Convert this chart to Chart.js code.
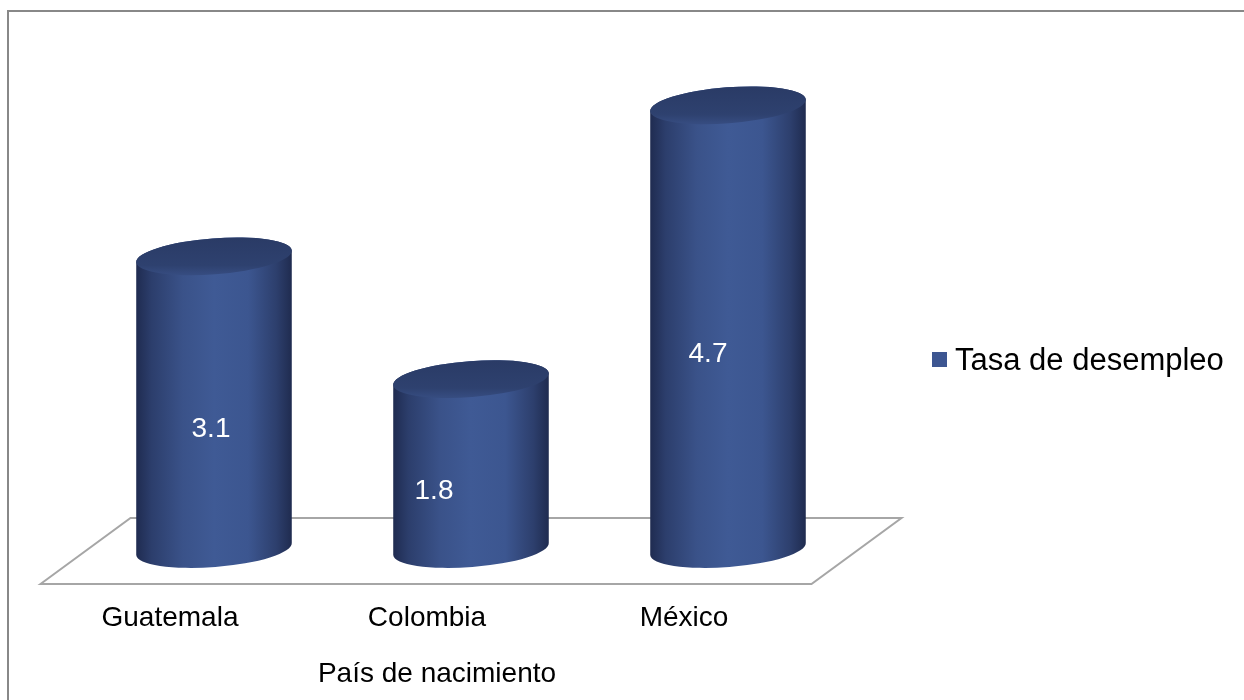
<!DOCTYPE html>
<html>
<head>
<meta charset="utf-8">
<script src="https://cdn.jsdelivr.net/npm/chart.js@4.4.1/dist/chart.umd.min.js"></script>
<style>
  html, body { margin: 0; padding: 0; background: #ffffff; }
  #wrap { position: relative; width: 1244px; height: 700px; }
  canvas { display: block; }
</style>
</head>
<body>
<div id="wrap"><canvas id="chart" width="1244" height="700"></canvas></div>
<script>
// Unemployment rate by country of birth
const categories = ['Guatemala', 'Colombia', 'México'];
const seriesName = 'Tasa de desempleo';
const unemploymentRate = [3.1, 1.8, 4.7];
const axisTitle = 'País de nacimiento';

const FONT = '"Liberation Sans", Arial, "DejaVu Sans", sans-serif';
const LEGEND_SWATCH = '#3d5691';

// Cylinder geometry (pixels)
const CAP_RY = 18;
const CAP_TILT = -4.4 * Math.PI / 180;
// Floor perspective offsets (pixels)
const FLOOR_DX = 45;
const FLOOR_BACK = 31;
const FLOOR_FRONT = 35;
// Horizontal nudge of each value label inside its cylinder (pixels)
const VALUE_LABEL_DX = [-3, -37, -20];
const VALUE_LABEL_DY = 27;

function bodyGradient(ctx, x, rx) {
  const g = ctx.createLinearGradient(x - rx, 0, x + rx, 0);
  g.addColorStop(0.00, '#1f2b50');
  g.addColorStop(0.10, '#2c3e6c');
  g.addColorStop(0.30, '#3a5289');
  g.addColorStop(0.50, '#3f5a95');
  g.addColorStop(0.72, '#3c5690');
  g.addColorStop(0.90, '#2d3f6d');
  g.addColorStop(1.00, '#1f2b4f');
  return g;
}

const cylinderPlugin = {
  id: 'cylinders',
  beforeDraw(chart) {
    const ctx = chart.ctx;
    ctx.save();
    ctx.fillStyle = '#ffffff';
    ctx.fillRect(0, 0, chart.width, chart.height);
    // outer frame
    ctx.strokeStyle = '#888888';
    ctx.lineWidth = 2;
    ctx.strokeRect(8, 11, chart.width + 20, chart.height + 20);
    ctx.restore();
  },
  beforeDatasetsDraw(chart) {
    const ctx = chart.ctx;
    const area = chart.chartArea;
    const base = chart.scales.y.getPixelForValue(0);
    ctx.save();
    ctx.beginPath();
    ctx.moveTo(area.left - FLOOR_DX, base + FLOOR_FRONT);
    ctx.lineTo(area.left + FLOOR_DX, base - FLOOR_BACK);
    ctx.lineTo(area.right + FLOOR_DX, base - FLOOR_BACK);
    ctx.lineTo(area.right - FLOOR_DX, base + FLOOR_FRONT);
    ctx.closePath();
    ctx.fillStyle = '#ffffff';
    ctx.fill();
    ctx.strokeStyle = '#a6a6a6';
    ctx.lineWidth = 2;
    ctx.stroke();
    ctx.restore();
  },
  afterDatasetsDraw(chart) {
    const ctx = chart.ctx;
    const meta = chart.getDatasetMeta(0);
    const values = chart.data.datasets[0].data;
    meta.data.forEach((bar, i) => {
      const { x, y, base, width } = bar.getProps(['x', 'y', 'base', 'width'], true);
      const rx = width / 2;
      ctx.save();
      // side of the cylinder
      ctx.beginPath();
      ctx.ellipse(x, y, rx, CAP_RY, CAP_TILT, Math.PI, 2 * Math.PI, false);
      ctx.ellipse(x, base, rx, CAP_RY, CAP_TILT, 0, Math.PI, false);
      ctx.closePath();
      ctx.fillStyle = bodyGradient(ctx, x, rx);
      ctx.fill();
      // top cap
      ctx.beginPath();
      ctx.ellipse(x, y, rx, CAP_RY, CAP_TILT, 0, 2 * Math.PI);
      const cg = ctx.createLinearGradient(0, y - CAP_RY, 0, y + CAP_RY);
      cg.addColorStop(0, '#2a3b66');
      cg.addColorStop(0.75, '#2e416f');
      cg.addColorStop(1, '#364c80');
      ctx.fillStyle = cg;
      ctx.fill();
      // value label
      ctx.fillStyle = '#ffffff';
      ctx.font = '28px ' + FONT;
      ctx.textAlign = 'center';
      ctx.textBaseline = 'middle';
      ctx.fillText(String(values[i]), x + VALUE_LABEL_DX[i], (y + base) / 2 + VALUE_LABEL_DY);
      ctx.restore();
    });
  },
  afterDraw(chart) {
    const ctx = chart.ctx;
    const area = chart.chartArea;
    ctx.save();
    // axis title
    ctx.fillStyle = '#000000';
    ctx.font = '28px ' + FONT;
    ctx.textAlign = 'center';
    ctx.textBaseline = 'alphabetic';
    ctx.fillText(axisTitle, (area.left + area.right) / 2 - 34, 682);
    // legend
    ctx.fillStyle = LEGEND_SWATCH;
    ctx.fillRect(932, 352, 15, 15);
    ctx.fillStyle = '#000000';
    ctx.font = '31px ' + FONT;
    ctx.textAlign = 'left';
    ctx.fillText(chart.data.datasets[0].label, 955, 370);
    ctx.restore();
  }
};

new Chart(document.getElementById('chart'), {
  type: 'bar',
  data: {
    labels: categories,
    datasets: [{
      label: seriesName,
      data: unemploymentRate,
      backgroundColor: 'rgba(0,0,0,0)',
      borderWidth: 0,
      categoryPercentage: 1.0,
      barPercentage: 0.607
    }]
  },
  options: {
    responsive: false,
    animation: false,
    devicePixelRatio: 1,
    layout: { padding: { left: 85.5, right: 387.5, top: 77, bottom: 13.4 } },
    plugins: {
      legend: { display: false },
      tooltip: { enabled: false }
    },
    scales: {
      x: {
        grid: { display: false, drawTicks: false },
        border: { display: false },
        ticks: {
          padding: 52,
          labelOffset: -44,
          color: '#000000',
          font: { family: FONT, size: 28 }
        }
      },
      y: {
        display: false,
        min: 0,
        max: 5
      }
    }
  },
  plugins: [cylinderPlugin]
});
</script>
</body>
</html>
